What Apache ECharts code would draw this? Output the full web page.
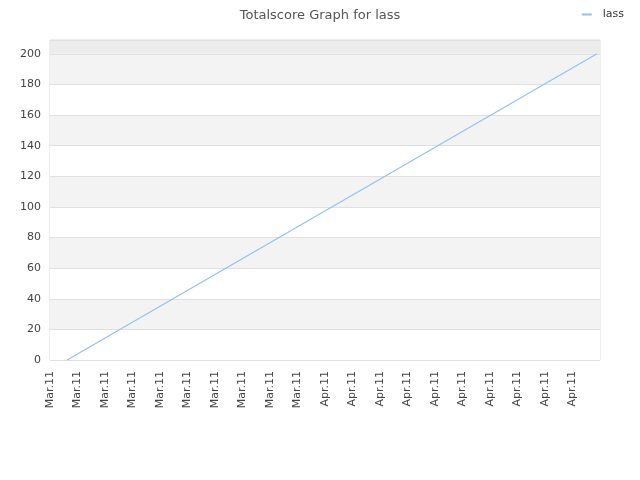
<!DOCTYPE html>
<html><head><meta charset="utf-8">
<script src="https://cdn.jsdelivr.net/npm/echarts@6/dist/echarts.min.js"></script>
<style>html,body{margin:0;padding:0;background:#fff}#c{width:640px;height:480px}</style>
</head><body><div id="c"></div>
<script>
var xTickLabels = ['Mar.11','Mar.11','Mar.11','Mar.11','Mar.11','Mar.11','Mar.11','Mar.11','Mar.11','Mar.11',
  'Apr.11','Apr.11','Apr.11','Apr.11','Apr.11','Apr.11','Apr.11','Apr.11','Apr.11','Apr.11'];
var seriesName = 'lass';
var xPositions = [0.62, 10.2, 19.89];
var scores = [0, 99.5, 200];

var chart = echarts.init(document.getElementById('c'));
var font = 'DejaVu Sans';
chart.setOption({
  animation: false,
  title: { text: 'Totalscore Graph for lass', left: 'center', top: 4,
    textStyle: { fontFamily: font, fontSize: 13, fontWeight: 'normal', color: '#555' } },
  legend: { right: 11, top: 4, itemWidth: 10, itemHeight: 2, itemGap: 5,
    icon: 'rect',
    textStyle: { fontFamily: font, fontSize: 11, color: '#333', padding: [0, 0, 0, 6] },
    data: [seriesName] },
  grid: { left: 50, right: 40, top: 40, bottom: 120, show: true, borderColor: '#ddd', borderWidth: 1, containLabel: false },
  xAxis: {
    type: 'value', min: 0, max: 20, interval: 1,
    axisLine: { show: false }, axisTick: { show: false }, splitLine: { show: false },
    axisLabel: { rotate: 90, fontFamily: font, fontSize: 11, color: '#444', margin: 11, showMaxLabel: false,
      formatter: function (v) { return xTickLabels[Math.round(v)] || ''; } }
  },
  yAxis: {
    type: 'value', min: 0, max: 209, interval: 20,
    axisLine: { show: false }, axisTick: { show: false },
    splitLine: { lineStyle: { color: '#e0e0e0' } },
    splitArea: { show: true, areaStyle: { color: ['#ffffff','#f3f3f3','#ffffff','#f3f3f3','#ffffff','#f3f3f3','#ffffff','#f3f3f3','#ffffff','#f3f3f3','#ececec'] } },
    axisLabel: { fontFamily: font, fontSize: 11, color: '#444', margin: 9, showMaxLabel: false,
      formatter: function (v) { return v % 20 === 0 ? String(v) : ''; } }
  },
  series: [{
    name: seriesName, type: 'line', showSymbol: false, symbol: 'none',
    lineStyle: { color: '#8ec3f5', width: 1.2 }, itemStyle: { color: '#8ec3f5' },
    data: xPositions.map(function (x, i) { return [x, scores[i]]; })
  }]
});
</script></body></html>
